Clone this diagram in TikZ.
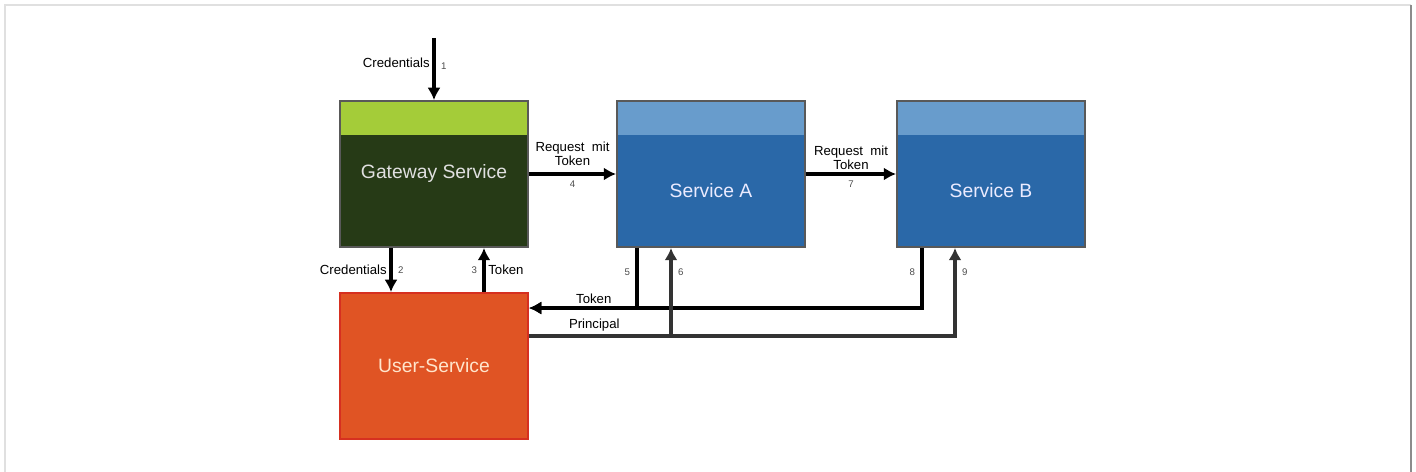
\documentclass[tikz,border=0pt]{standalone}
\usepackage{fontspec}
\setmainfont{Liberation Sans}
\usetikzlibrary{arrows.meta}
\definecolor{gwband}{RGB}{164,204,57}
\definecolor{gwbody}{RGB}{38,58,22}
\definecolor{svband}{RGB}{104,156,204}
\definecolor{svbody}{RGB}{42,104,168}
\definecolor{usbody}{RGB}{224,84,36}
\definecolor{usline}{RGB}{214,48,32}
\tikzset{
	box/.style={draw=black!65, line width=1.1pt, minimum width=3.76cm, minimum height=2.92cm, inner sep=0pt},
	band/.style={path picture={\fill [#1] (path picture bounding box.north west) rectangle ([yshift=-0.68cm]path picture bounding box.north east);}},
	txt/.style={font=\fontsize{11}{13}\selectfont, text=#1},
	flow/.style={->, line width=2pt},
	lbl/.style={font=\fontsize{7.5}{8}\selectfont, inner sep=1.5pt, align=center},
	num/.style={font=\fontsize{5.5}{6}\selectfont, text=black!70, inner sep=3pt}
}

\begin{document}
\begin{tikzpicture}[x=0.02cm, y=-0.02cm, >={Latex[length=7pt, width=7.5pt]}]
	\useasboundingbox (0,0) rectangle (1416,472);
	% page frame
	\draw [black!12, line width=1pt] (5,472) -- (5,5) -- (1411,5);
	\draw [black!45, line width=1.2pt] (1411,5) -- (1411,472);
	% boxes
	\node [box, fill=gwbody, band=gwband, txt=black!12!white] (gw) at (434,174) {Gateway Service};
	\node [box, fill=svbody, band=svband, label={[name=satxt, txt=white!92!blue, yshift=-0.34cm]center:Service A}] (sa) at (711,174) {};
	\node [box, fill=svbody, band=svband, label={[name=sbtxt, txt=white!92!blue, yshift=-0.34cm]center:Service B}] (sb) at (991,174) {};
	\node [box, draw=usline, fill=usbody, txt=orange!20!white] (us) at (434,366) {User-Service};
	\coordinate (in) at (434,38);
	\coordinate (tk) at ([yshift=-0.32cm]us.north east);
	\coordinate (pr) at ([yshift=-0.88cm]us.north east);
	% requests
	\draw [flow] (in) -- (gw.north) node [lbl, pos=0.4, left] (l1) {Credentials} node [num, pos=0.45, right] (n1) {1};
	\draw [flow] (gw) -- (sa) node [lbl, midway, above, yshift=2pt] (l4) {Request~~mit\\Token} node [num, midway, below] (n4) {4};
	\draw [flow] (sa) -- (sb) node [lbl, midway, above] (l7) {Request~~mit\\Token} node [num, midway, below] (n7) {7};
	\draw [flow] ([xshift=-0.86cm]gw.south) -- ([xshift=-0.86cm]us.north) node [lbl, midway, left] (l2) {Credentials} node [num, midway, right] (n2) {2};
	\draw [flow] ([xshift=1cm]us.north) -- ([xshift=1cm]gw.south) node [num, midway, left] (n3) {3} node [lbl, midway, right] (l3) {Token};
	% token check
	\draw [flow] ([xshift=-1.48cm]sa.south) |- (tk) node [num, pos=0.2, left] (n5) {5} node [lbl, pos=0.7, above] (l5) {Token};
	\draw [flow] ([xshift=-1.38cm]sb.south) |- (tk) node [num, pos=0.2, left] (n8) {8};
	% principal
	\draw [flow, black!80] (pr) -| ([xshift=-0.8cm]sa.south) node [lbl, text=black, pos=0.23, above] (l6) {Principal} node [num, pos=0.86, right] (n6) {6};
	\draw [flow, black!80] (pr) -| ([xshift=-0.72cm]sb.south) node [num, pos=0.86, right] (n9) {9};
\end{tikzpicture}
\end{document}
